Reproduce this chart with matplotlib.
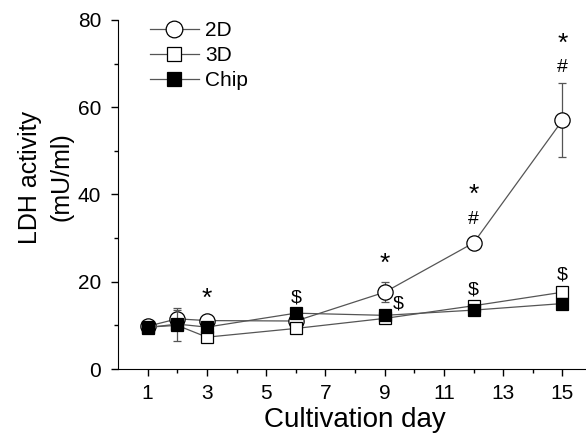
import matplotlib.pyplot as plt
from matplotlib.lines import Line2D

plt.rcParams['font.family'] = ['Liberation Sans', 'DejaVu Sans']

days = [1, 2, 3, 6, 9, 12, 15]

ldh_2d = [9.8, 11.5, 11.1, 11.0, 17.6, 28.9, 57.0]
err_2d = [1.0, 2.5, 1.0, 0.8, 2.3, 1.0, 8.5]

ldh_3d = [9.6, 10.0, 7.3, 9.3, 11.6, 14.5, 17.6]
err_3d = [0.8, 3.6, 0.6, 0.8, 0.6, 0.6, 0.6]

ldh_chip = [9.5, 10.3, 9.6, 12.8, 12.3, 13.5, 15.0]
err_chip = [0.8, 1.2, 0.8, 0.8, 0.8, 0.8, 0.8]

# significance marks: (day, value, symbol)
marks = [(3, 16.0, '*'), (6, 16.3, '$'), (9, 24.0, '*'), (9.45, 15.0, '$'),
         (12, 39.8, '*'), (12, 34.3, '#'), (12, 18.0, '$'),
         (15, 74.6, '*'), (15, 69.2, '#'), (15, 21.6, '$')]

fig = plt.figure(figsize=(5.86, 4.38), dpi=100)
ax = fig.add_axes([0.2014, 0.1575, 0.809, 0.797])

line_col = '#555555'
styles = [
    (ldh_2d, err_2d, 'o', 11, 'white', '2D'),
    (ldh_3d, err_3d, 's', 9, 'white', '3D'),
    (ldh_chip, err_chip, 's', 9, 'black', 'Chip'),
]
handles = []
for i, (vals, errs, mk, ms, fc, name) in enumerate(styles):
    ax.errorbar(days, vals, yerr=errs, color=line_col, lw=0.9, ecolor=line_col,
                elinewidth=0.9, capsize=3, marker=mk, ms=ms, mfc=fc, mec='black',
                mew=0.9, zorder=2 + i)
    handles.append(Line2D([], [], color=line_col, lw=0.9, marker=mk, ms=ms + 1,
                          mfc=fc, mec='black', mew=0.9, label=name))

for x, y, s in marks:
    if s == '*':
        ax.text(x, y, s, ha='center', va='center', fontsize=19)
    else:
        ax.text(x, y, s, ha='center', va='center', fontsize=14)

ax.set_xlim(0, 16)
ax.set_ylim(0, 80)
ax.set_xticks([1, 3, 5, 7, 9, 11, 13, 15])
ax.set_xticks([2, 4, 6, 8, 10, 12, 14], minor=True)
ax.set_yticks([0, 20, 40, 60, 80])
ax.set_yticks([10, 30, 50, 70], minor=True)
ax.spines['top'].set_visible(False)
ax.spines['right'].set_visible(False)
ax.tick_params(axis='both', which='major', labelsize=15, length=5, width=1)
ax.tick_params(axis='x', which='major', pad=6)
ax.tick_params(axis='y', which='major', pad=7)
ax.tick_params(axis='both', which='minor', length=3, width=1)

ax.set_xlabel('Cultivation day', fontsize=20, labelpad=3)
ax.set_ylabel('LDH activity\n(mU/ml)', fontsize=18, labelpad=3, linespacing=1.4, y=0.55)

ax.legend(handles=handles, loc='upper left', bbox_to_anchor=(0.027, 1.05),
          frameon=False, fontsize=15, handlelength=2.35, handletextpad=0.3,
          labelspacing=0.28)

fig.savefig('out.png', dpi=100)
